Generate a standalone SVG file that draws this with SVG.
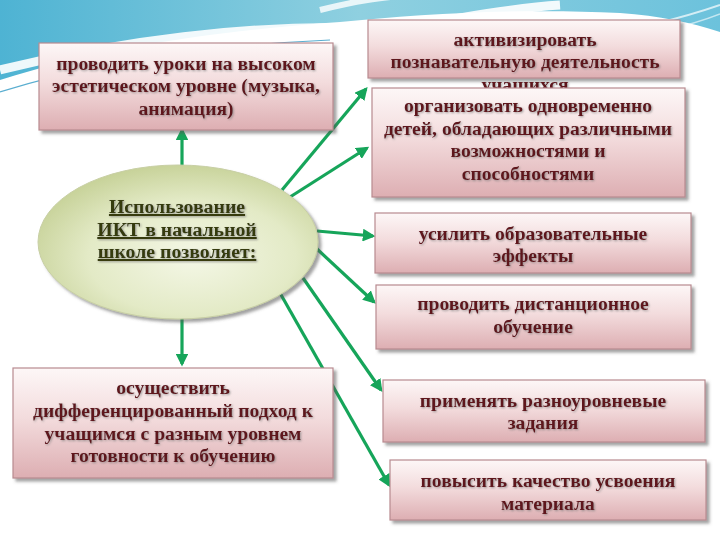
<svg xmlns="http://www.w3.org/2000/svg" width="720" height="540" viewBox="0 0 720 540">
<defs>
<linearGradient id="sky" x1="0" y1="0" x2="1" y2="0">
<stop offset="0" stop-color="#4eb3d3"/>
<stop offset="0.5" stop-color="#8fd0e0"/>
<stop offset="1" stop-color="#6cc2dc"/>
</linearGradient>
<linearGradient id="boxg" x1="0" y1="0" x2="0" y2="1">
<stop offset="0" stop-color="#fdf7f7"/>
<stop offset="0.45" stop-color="#f3dcdd"/>
<stop offset="1" stop-color="#ddaeb2"/>
</linearGradient>
<radialGradient id="ellg" cx="0.55" cy="0.6" r="0.62">
<stop offset="0" stop-color="#f4f7e6"/>
<stop offset="0.6" stop-color="#e3eac6"/>
<stop offset="1" stop-color="#c6d197"/>
</radialGradient>
<filter id="sh" x="-10%" y="-10%" width="125%" height="135%">
<feDropShadow dx="3" dy="3" stdDeviation="1.5" flood-color="#555" flood-opacity="0.55"/>
</filter>
<filter id="tsh" x="-5%" y="-20%" width="110%" height="150%">
<feDropShadow dx="1" dy="1" stdDeviation="0.8" flood-color="#777" flood-opacity="0.7"/>
</filter>
<marker id="ah" viewBox="0 0 10 10" refX="8" refY="5" markerWidth="4" markerHeight="4" orient="auto-start-reverse">
<path d="M0,0 L10,5 L0,10 z" fill="#16a55a"/>
</marker>
<style>
.box{fill:url(#boxg);stroke:#b88a90;stroke-width:1.2;filter:url(#sh)}
.t{font-family:"Liberation Serif","DejaVu Serif",serif;font-weight:bold;font-size:19.6px;fill:#5e141c;text-anchor:middle;filter:url(#tsh)}
.et{font-family:"Liberation Serif","DejaVu Serif",serif;font-weight:bold;font-size:19.8px;fill:#363b0e;text-anchor:middle;text-decoration:underline;filter:url(#tsh)}
.c{stroke:#16a55a;stroke-width:3.2;fill:none;marker-end:url(#ah)}
</style>
</defs>
<rect width="720" height="540" fill="#ffffff"/>
<g id="background">
<path d="M0,0 H720 V32 C690,22 660,16 620,13 C520,8 420,14 340,22 C230,30 110,45 0,80 Z" fill="url(#sky)"/>
<path d="M0,70 C120,40 250,25 360,28 C420,30 480,10 560,5" stroke="#ffffff" stroke-width="9" fill="none" opacity="0.9"/>
<path d="M0,92 C100,60 220,45 330,40" stroke="#5aaed0" stroke-width="1.2" fill="none"/>
<path d="M320,10 C360,0 380,-2 400,-4" stroke="#ffffff" stroke-width="6" fill="none" opacity="0.8"/>
<path d="M650,25 C680,18 700,12 720,5" stroke="#ffffff" stroke-width="2" fill="none" opacity="0.7"/>
<path d="M660,32 C685,26 705,20 720,14" stroke="#ffffff" stroke-width="1.5" fill="none" opacity="0.6"/>
</g>
<g id="connectors">
<line class="c" x1="182" y1="166" x2="182" y2="130"/>
<line class="c" x1="182" y1="318" x2="182" y2="364"/>
<line class="c" x1="282" y1="190" x2="366" y2="89"/>
<line class="c" x1="290" y1="197" x2="367" y2="148"/>
<line class="c" x1="317" y1="231" x2="373" y2="236"/>
<line class="c" x1="317" y1="249" x2="374" y2="302"/>
<line class="c" x1="303" y1="278" x2="381" y2="390"/>
<line class="c" x1="280" y1="293" x2="389" y2="485"/>
</g>
<g id="n-center">
<ellipse cx="178" cy="242" rx="140" ry="77" fill="url(#ellg)" stroke="#c8cfa5" stroke-width="1" filter="url(#sh)"/>
<text class="et" x="177" y="213">Использование</text>
<text class="et" x="177" y="236">ИКТ в начальной</text>
<text class="et" x="177" y="258">школе позволяет:</text>
</g>
<g id="n-lessons">
<rect class="box" x="39" y="43" width="294" height="87"/>
<text class="t" x="186" y="70">проводить уроки на высоком</text>
<text class="t" x="186" y="92">эстетическом уровне (музыка,</text>
<text class="t" x="186" y="115">анимация)</text>
</g>
<g id="n-activate">
<rect class="box" x="368" y="20" width="312" height="58"/>
<text class="t" x="525" y="46">активизировать</text>
<text class="t" x="525" y="68">познавательную деятельность</text>
<text class="t" x="525" y="91">учащихся</text>
</g>
<g id="n-organize">
<rect class="box" x="372" y="88" width="313" height="109"/>
<text class="t" x="528" y="112">организовать одновременно</text>
<text class="t" x="528" y="135">детей, обладающих различными</text>
<text class="t" x="528" y="157">возможностями и</text>
<text class="t" x="528" y="180">способностями</text>
</g>
<g id="n-effects">
<rect class="box" x="375" y="213" width="316" height="60"/>
<text class="t" x="533" y="240">усилить образовательные</text>
<text class="t" x="533" y="262">эффекты</text>
</g>
<g id="n-distance">
<rect class="box" x="376" y="285" width="315" height="64"/>
<text class="t" x="533" y="310">проводить дистанционное</text>
<text class="t" x="533" y="333">обучение</text>
</g>
<g id="n-differentiate">
<rect class="box" x="13" y="368" width="320" height="110"/>
<text class="t" x="173" y="394">осуществить</text>
<text class="t" x="173" y="417">дифференцированный подход к</text>
<text class="t" x="173" y="440">учащимся с разным уровнем</text>
<text class="t" x="173" y="462">готовности к обучению</text>
</g>
<g id="n-tasks">
<rect class="box" x="383" y="380" width="322" height="62"/>
<text class="t" x="543" y="407">применять разноуровневые</text>
<text class="t" x="543" y="429">задания</text>
</g>
<g id="n-quality">
<rect class="box" x="390" y="460" width="316" height="60"/>
<text class="t" x="548" y="487">повысить качество усвоения</text>
<text class="t" x="548" y="510">материала</text>
</g>
</svg>
